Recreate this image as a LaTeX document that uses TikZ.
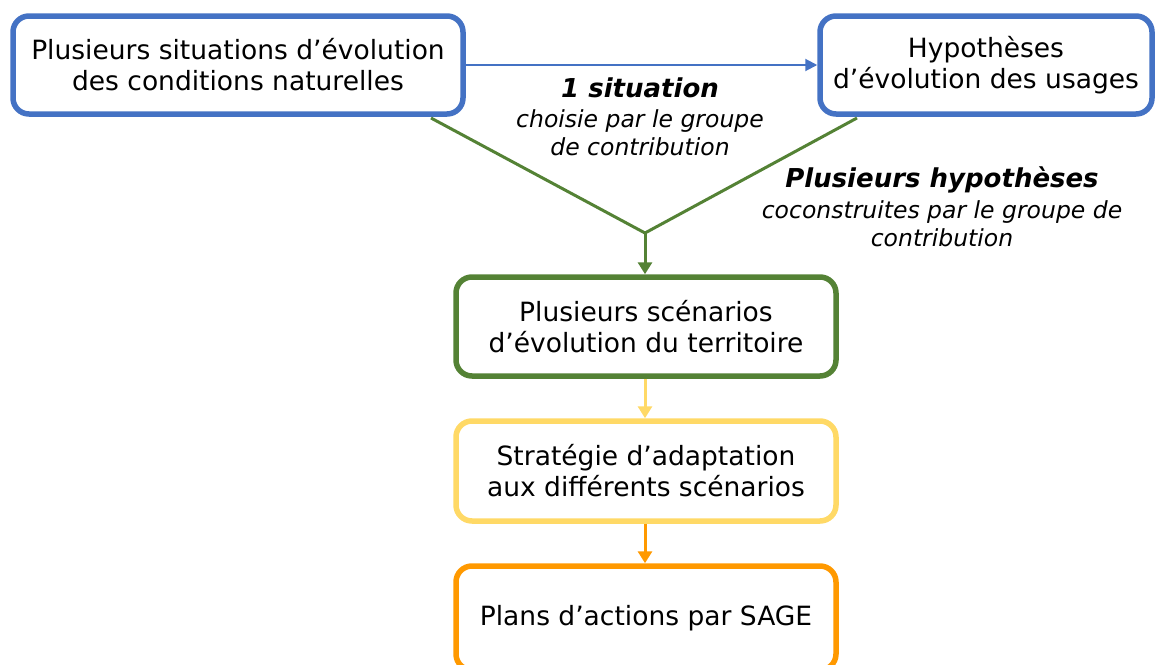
\documentclass[tikz,border=0pt]{standalone}
\usepackage{fontspec}
\setmainfont{DejaVu Sans}
\usetikzlibrary{arrows.meta}
\definecolor{cblue}{HTML}{4472C4}
\definecolor{cgreen}{HTML}{548235}
\definecolor{cyellow}{HTML}{FFD966}
\definecolor{corange}{HTML}{FF9900}
\begin{document}
\begin{tikzpicture}[x=1pt,y=-1pt,
  box/.style={draw, line width=5.5pt, rounded corners=16pt, fill=white, align=center,
    font=\fontsize{26.5}{31}\selectfont, inner sep=0pt},
  lbl/.style={align=center, inner sep=0pt},
  bigit/.style={font=\fontsize{26}{28}\selectfont\bfseries\itshape},
  smallit/.style={font=\fontsize{23.5}{28}\selectfont\itshape},
  tip/.style={-{Triangle[width=14pt,length=12pt]}}]
\useasboundingbox (0,0) rectangle (1156,664);
\node[box, draw=cblue, minimum width=450pt, minimum height=98pt] (A) at (238,65)
  {Plusieurs situations d’évolution\\des conditions naturelles};
\node[box, draw=cblue, minimum width=332pt, minimum height=98pt] (B) at (986,65)
  {Hypothèses\\d’évolution des usages};
\node[box, draw=cgreen, minimum width=380pt, minimum height=99pt] (C) at (646,326.5)
  {Plusieurs scénarios\\d’évolution du territoire};
\node[box, draw=cyellow, minimum width=380pt, minimum height=100pt] (D) at (646,471)
  {Stratégie d’adaptation\\aux différents scénarios};
\node[box, draw=corange, minimum width=380pt, minimum height=104pt] (E) at (646,618)
  {Plans d’actions par SAGE};
\draw[cblue, line width=2pt, -{Triangle[width=12pt,length=12pt]}] (A.east) -- (B.west);
\node[lbl, bigit] (l1) at (640,88) {1 situation};
\node[lbl, smallit] (l2) at (640,133) {choisie par le groupe\\de contribution};
\node[lbl, bigit] (l3) at (942,180) {Plusieurs hypothèses};
\node[lbl, smallit] (l4) at (942,224) {coconstruites par le groupe de\\contribution};
\coordinate (a1) at (431,118);
\coordinate (b1) at (857,118);
\coordinate (m) at (645,233);
\draw[cgreen, line width=3pt] (a1) -- (m) -- (b1);
\draw[cgreen, line width=3pt, tip] (m) -- (m |- C.north);
\draw[cyellow, line width=3pt, tip] (C.south -| m) -- (D.north -| m);
\draw[corange, line width=3pt, tip] (D.south -| m) -- (E.north -| m);
\end{tikzpicture}
\end{document}
